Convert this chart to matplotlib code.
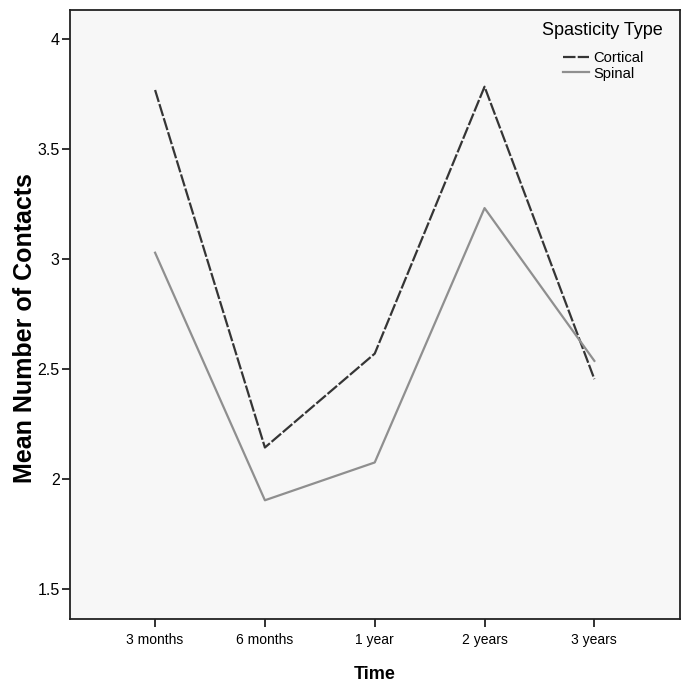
import matplotlib
matplotlib.use("Agg")
import matplotlib.pyplot as plt

plt.rcParams['font.family'] = ['Liberation Sans', 'DejaVu Sans']
plt.rcParams['lines.scale_dashes'] = False

# данные
times = ['3 months', '6 months', '1 year', '2 years', '3 years']
cortical = [3.77, 2.144, 2.571, 3.785, 2.455]
spinal = [3.03, 1.904, 2.076, 3.233, 2.538]
y_ticks = [1.5, 2, 2.5, 3, 3.5, 4]

fig = plt.figure(figsize=(6.84, 6.83), dpi=100)
ax = fig.add_axes([0.1023, 0.0937, 0.8919, 0.8917])
ax.set_facecolor('#f7f7f7')

x = list(range(len(times)))
ax.plot(x, cortical, color='#353535', lw=1.6, dashes=(9, 1.6), label='Cortical')
ax.plot(x, spinal, color='#8f8f8f', lw=1.6, label='Spinal')

ax.set_xlim(-0.775, 4.78)
ax.set_ylim(1.364, 4.134)
ax.set_xticks(x)
ax.set_xticklabels(times, fontsize=10)
ax.set_yticks(y_ticks)
ax.set_yticklabels([f'{v:g}' for v in y_ticks], fontsize=11.5)
ax.tick_params(direction='out', length=6, width=1.3, color='#222222', pad=1.5)
ax.tick_params(axis='x', pad=4)

for s in ax.spines.values():
    s.set_linewidth(1.3)
    s.set_color('#222222')

ax.set_xlabel('Time', fontsize=13, fontweight='bold', labelpad=14)
ax.set_ylabel('Mean Number of Contacts', fontsize=18, fontweight='bold')
ax.yaxis.set_label_coords(-0.054, 0.478)

# легенда без рамки, заголовок отдельным текстом
ax.text(0.872, 0.966, 'Spasticity Type', transform=ax.transAxes,
        ha='center', va='center', fontsize=13)
ax.legend(loc='upper left', bbox_to_anchor=(0.808, 0.932), frameon=False,
          fontsize=10.6, handlelength=1.75, handletextpad=0.3,
          labelspacing=0.08, borderpad=0, borderaxespad=0)

fig.savefig('out.png', dpi=100, facecolor='white')
